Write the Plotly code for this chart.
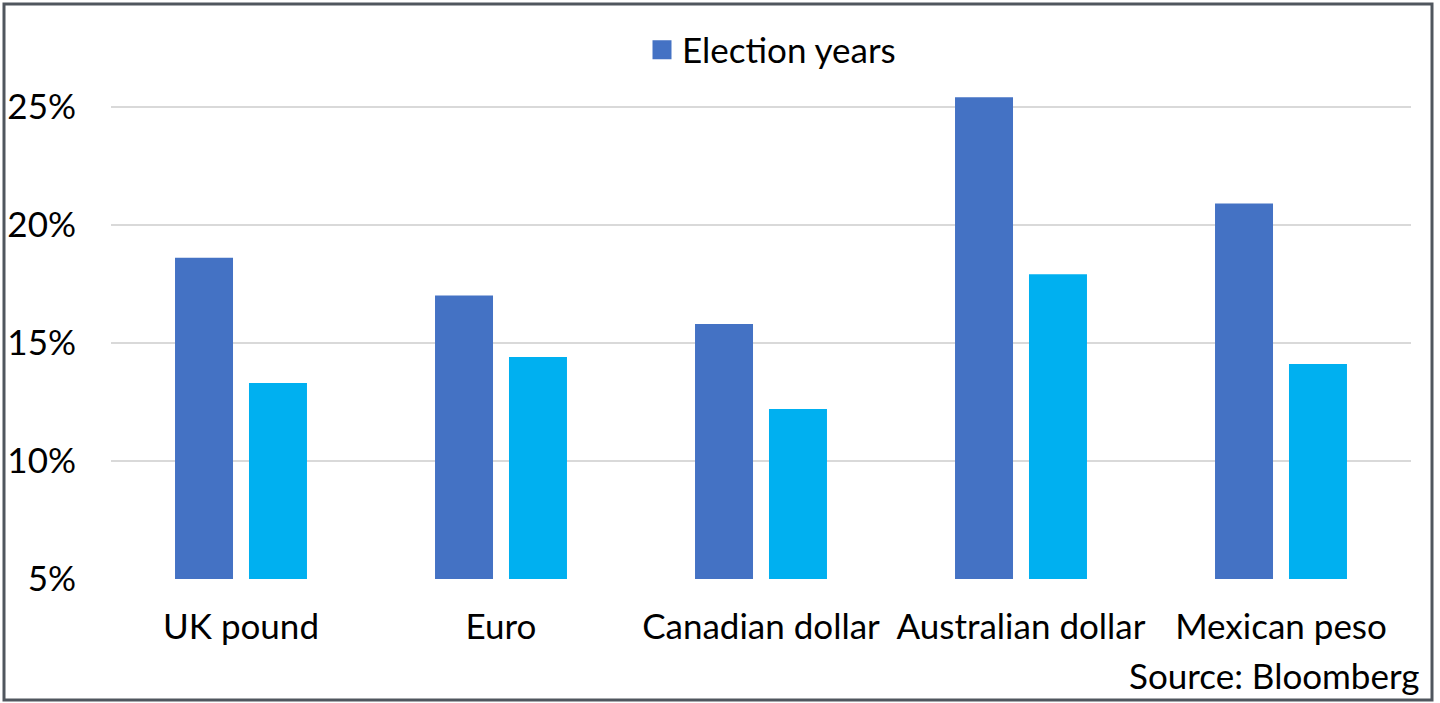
"""
Currency volatility in election vs. other years - grouped bar chart
"""

import plotly.graph_objects as go

# Data
currencies = ["UK pound", "Euro", "Canadian dollar", "Australian dollar", "Mexican peso"]
election_years = [18.6, 17.0, 15.8, 25.4, 20.9]
other_years = [13.3, 14.4, 12.2, 17.9, 14.1]
y_ticks = [5, 10, 15, 20, 25]
y_tick_labels = ["5%", "10%", "15%", "20%", "25%"]

FONT = "Lato, Carlito, Calibri, sans-serif"
BLUE = "#4472C4"
CYAN = "#00B0F0"

fig = go.Figure()

fig.add_trace(go.Bar(
    x=currencies,
    y=[v - 5 for v in election_years],
    base=5,
    name="Election years",
    showlegend=False,
    marker=dict(color=BLUE, line=dict(width=0)),
    hovertemplate="%{x}: %{customdata:.1f}%<extra></extra>",
    customdata=election_years,
))

fig.add_trace(go.Bar(
    x=currencies,
    y=[v - 5 for v in other_years],
    base=5,
    name="Other years",
    showlegend=False,
    marker=dict(color=CYAN, line=dict(width=0)),
    hovertemplate="%{x}: %{customdata:.1f}%<extra></extra>",
    customdata=other_years,
))

# legend-only entry so the swatch can be drawn a bit larger
fig.add_trace(go.Scatter(
    x=[None], y=[None],
    mode="markers",
    name="Election years",
    marker=dict(symbol="square", size=16, color=BLUE, line=dict(color=BLUE, width=3)),
    hoverinfo="skip",
))

# plot area in pixels: x 111..1411, y 83..579
W, H = 1440, 703
ml, mr, mt, mb = 111, 29, 83, 124
pw = W - ml - mr
ph = H - mt - mb


def px_x(p):
    return (p - ml) / pw


def px_y(p):
    return (H - mb - p) / ph


fig.update_layout(
    width=W,
    height=H,
    margin=dict(l=ml, r=mr, t=mt, b=mb, pad=0, autoexpand=False),
    paper_bgcolor="white",
    plot_bgcolor="white",
    font=dict(family=FONT, size=35, color="#000000"),
    barmode="group",
    bargap=0.431,
    bargroupgap=0.216,
    showlegend=True,
    legend=dict(
        orientation="h",
        x=px_x(642),
        y=px_y(50),
        xanchor="left",
        yanchor="middle",
        font=dict(family=FONT, size=35),
        itemsizing="trace",
        itemwidth=30,
        bgcolor="rgba(0,0,0,0)",
    ),
    xaxis=dict(
        automargin=False,
        showgrid=False,
        showline=False,
        ticks="",
        tickfont=dict(family=FONT, size=35),
        ticklabelstandoff=24,
    ),
    yaxis=dict(
        automargin=False,
        range=[5, 26],
        tickvals=y_ticks,
        ticktext=y_tick_labels,
        showgrid=True,
        gridcolor="#D9D9D9",
        gridwidth=2,
        zeroline=False,
        showline=False,
        ticks="",
        tickfont=dict(family=FONT, size=35),
        ticklabelstandoff=34,
    ),
    annotations=[dict(
        text="Source: Bloomberg",
        xref="paper", yref="paper",
        x=px_x(1421), y=px_y(675),
        xanchor="right", yanchor="middle",
        showarrow=False,
        font=dict(family=FONT, size=35, color="#000000"),
    )],
    shapes=[dict(
        type="rect",
        xref="paper", yref="paper",
        x0=px_x(4), x1=px_x(1432),
        y0=px_y(700), y1=px_y(4),
        line=dict(color="#50565E", width=3),
        fillcolor="rgba(0,0,0,0)",
        layer="above",
    )],
)

fig.write_html(
    "out.html",
    config={"displayModeBar": False},
    post_script="document.body.style.margin='0';",
)
